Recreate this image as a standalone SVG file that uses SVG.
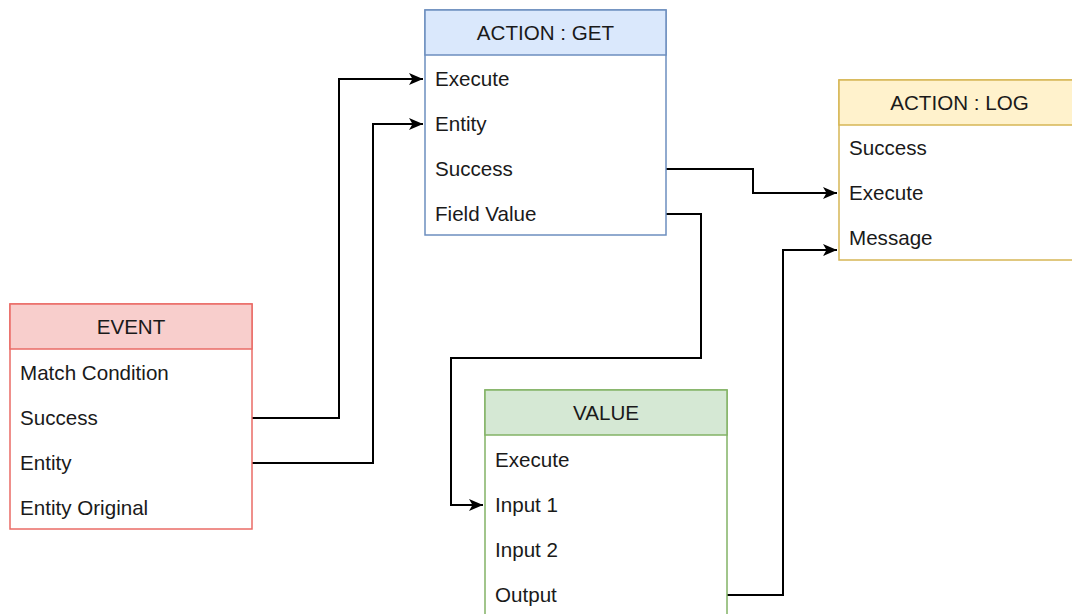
<svg xmlns="http://www.w3.org/2000/svg" width="1072" height="614" viewBox="0 0 1072 614">
<defs>
<marker id="arr" viewBox="0 0 14 12" refX="14" refY="6" markerWidth="14" markerHeight="12" markerUnits="userSpaceOnUse" orient="auto">
<path d="M0,0 L14,6 L0,12 L3.5,6 Z" fill="#000"/>
</marker>
</defs>
<style>
text{font-family:"Liberation Sans",Arial,sans-serif;font-size:20.6px;fill:#1a1a1a}
.h{text-anchor:middle}
.body{fill:#fff}
.c{fill:none;stroke:#000;stroke-width:2}
</style>
<rect width="1072" height="614" fill="#fff"/>
<g id="connectors">
<path class="c" d="M252,418 H339 V79 H423" marker-end="url(#arr)"/>
<path class="c" d="M252,463 H373 V124 H423" marker-end="url(#arr)"/>
<path class="c" d="M666,169 H753 V193 H837" marker-end="url(#arr)"/>
<path class="c" d="M666,214 H701 V358 H451 V505 H483" marker-end="url(#arr)"/>
<path class="c" d="M727,595 H783 V250 H837" marker-end="url(#arr)"/>
</g>
<g id="node-get">
<rect class="body" x="425" y="10" width="241" height="225" stroke="#6c8ebf" stroke-width="1.5"/>
<rect x="425" y="10" width="241" height="45" fill="#dae8fc" stroke="#6c8ebf" stroke-width="1.5"/>
<text class="h" x="545.5" y="40">ACTION : GET</text>
<text x="435" y="86">Execute</text>
<text x="435" y="131">Entity</text>
<text x="435" y="176">Success</text>
<text x="435" y="221">Field Value</text>
</g>
<g id="node-log">
<rect class="body" x="839" y="80" width="241" height="180" stroke="#d6b656" stroke-width="1.5"/>
<rect x="839" y="80" width="241" height="45" fill="#fff2cc" stroke="#d6b656" stroke-width="1.5"/>
<text class="h" x="959.5" y="110">ACTION : LOG</text>
<text x="849" y="155">Success</text>
<text x="849" y="200">Execute</text>
<text x="849" y="245">Message</text>
</g>
<g id="node-event">
<rect class="body" x="10" y="304" width="242" height="225" stroke="#ea6b66" stroke-width="1.5"/>
<rect x="10" y="304" width="242" height="45" fill="#f8cecc" stroke="#ea6b66" stroke-width="1.5"/>
<text class="h" x="131" y="334">EVENT</text>
<text x="20" y="380">Match Condition</text>
<text x="20" y="425">Success</text>
<text x="20" y="470">Entity</text>
<text x="20" y="515">Entity Original</text>
</g>
<g id="node-value">
<rect class="body" x="485" y="390" width="242" height="240" stroke="#82b366" stroke-width="1.5"/>
<rect x="485" y="390" width="242" height="45" fill="#d5e8d4" stroke="#82b366" stroke-width="1.5"/>
<text class="h" x="606" y="420">VALUE</text>
<text x="495" y="467">Execute</text>
<text x="495" y="512">Input 1</text>
<text x="495" y="557">Input 2</text>
<text x="495" y="602">Output</text>
</g>
</svg>
